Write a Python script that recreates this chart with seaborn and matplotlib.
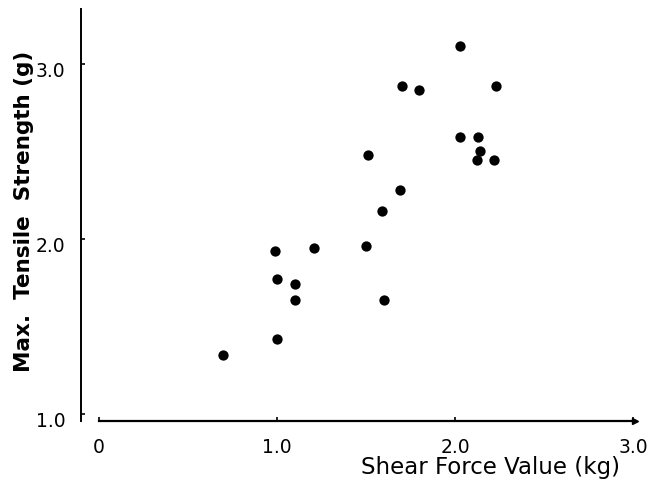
import matplotlib
matplotlib.use("Agg")
import matplotlib.pyplot as plt
import matplotlib.transforms as mtransforms
import seaborn as sns
import pandas as pd

shear_force = [0.70, 0.99, 1.00, 1.00, 1.10, 1.10, 1.21, 1.50, 1.51, 1.59, 1.60,
               1.69, 1.70, 1.80, 2.03, 2.03, 2.13, 2.14, 2.12, 2.23, 2.22]
tensile = [1.34, 1.93, 1.77, 1.43, 1.65, 1.74, 1.95, 1.96, 2.48, 2.16, 1.65,
           2.28, 2.87, 2.85, 3.10, 2.58, 2.58, 2.50, 2.45, 2.87, 2.45]
x_ticks = [0, 1.0, 2.0, 3.0]
x_tick_labels = ["0", "1.0", "2.0", "3.0"]
y_ticks = [1.0, 2.0, 3.0]
y_tick_labels = ["1.0", "2.0", "3.0"]

df = pd.DataFrame({"shear": shear_force, "tensile": tensile})

sns.set_style("white")
plt.rcParams["font.family"] = ["DejaVu Sans"]
plt.rcParams["text.color"] = "black"

fig = plt.figure(figsize=(6.5, 4.88), dpi=100)
ax = fig.add_axes([0.1242, 0.1363, 0.8528, 0.8447])

sns.scatterplot(data=df, x="shear", y="tensile", ax=ax, color="black",
                s=55, edgecolor="black", linewidth=0)

ax.set_xlim(-0.0998, 3.009)
ax.set_ylim(0.958, 3.310)

for side in ["top", "right"]:
    ax.spines[side].set_visible(False)
ax.spines["left"].set_linewidth(1.4)
ax.spines["bottom"].set_linewidth(1.6)
ax.spines["left"].set_color("black")
ax.spines["bottom"].set_color("black")
ax.spines["bottom"].set_bounds(0, 3.009)

ax.set_xticks(x_ticks)
ax.set_xticklabels(x_tick_labels)
ax.set_yticks(y_ticks)
ax.set_yticklabels(y_tick_labels)
ax.tick_params(axis="both", which="major", direction="in", length=3, width=1.2,
               color="black", labelcolor="black", labelsize=13.5,
               left=True, bottom=True)
ax.tick_params(axis="y", pad=11)
ax.tick_params(axis="x", pad=12)

shift = mtransforms.ScaledTranslation(0, -4 / 72, fig.dpi_scale_trans)
for lab in ax.get_yticklabels():
    lab.set_transform(lab.get_transform() + shift)

ax.plot(1, 0, ">", transform=ax.transAxes, clip_on=False, ms=4, color="black")

ax.set_xlabel("")
ax.set_ylabel("")
fig.text(0.755, 0.043, "Shear Force Value (kg)", ha="center", va="center",
         fontsize=16.5, color="black")
fig.text(0.037, 0.566, "Max.  Tensile  Strength (g)", ha="center", va="center",
         rotation=90, fontsize=15.5, fontweight="bold", color="black")

fig.savefig("out.png", dpi=100)
